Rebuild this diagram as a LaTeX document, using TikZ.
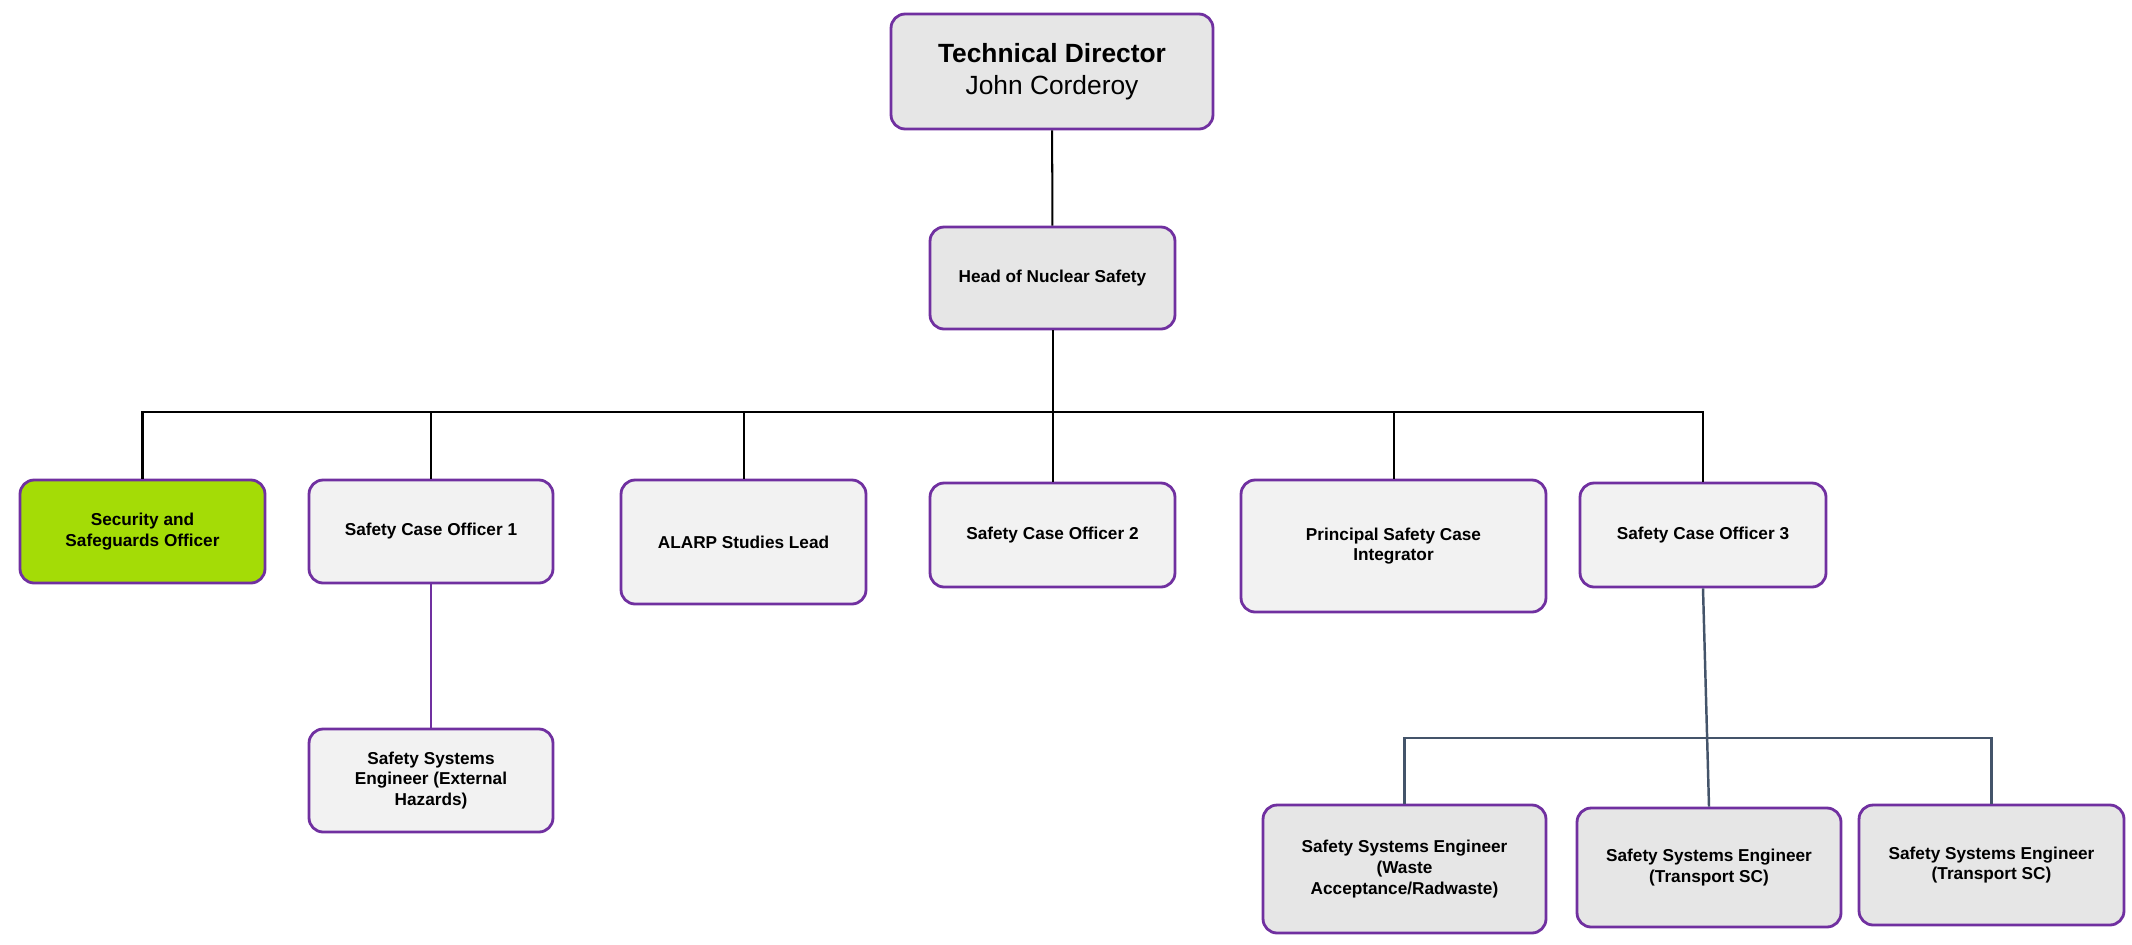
\documentclass[tikz,border=0pt]{standalone}
\usepackage{fontspec}
\setmainfont{Liberation Sans}
\usepackage{tikz}
\usetikzlibrary{positioning}
\definecolor{postedge}{RGB}{112,48,160}
\definecolor{postfill}{RGB}{242,242,242}
\definecolor{headfill}{RGB}{230,230,230}
\definecolor{safegreen}{RGB}{164,220,6}
\definecolor{slateline}{RGB}{68,84,106}

\begin{document}
\begin{tikzpicture}[x=0.02cm, y=-0.02cm,
    post/.style={draw=postedge, line width=1.6pt, rounded corners=8pt,
        fill=postfill, align=center, inner sep=2pt,
        font=\fontsize{9.8}{11.7}\selectfont\bfseries},
    headpost/.style={post, fill=headfill},
    orgline/.style={line width=1.15pt, black},
]
\useasboundingbox (0,0) rectangle (2132,944);

% Direccio
\node[headpost, minimum width=6.44cm, minimum height=2.3cm,
    font=\fontsize{15}{18}\selectfont] (td) at (1052,71.5)
    {\textbf{Technical Director}\\John Corderoy};
\node[headpost, minimum width=4.9cm, minimum height=2.04cm] (hns) at (1052.5,278)
    {Head of Nuclear Safety};

% Fila principal
\node[post, fill=safegreen, minimum width=4.9cm, minimum height=2.06cm] (sec) at (142.5,531.5)
    {Security and\\Safeguards Officer};
\node[post, minimum width=4.88cm, minimum height=2.06cm] (sco1) at (431,531.5)
    {Safety Case Officer 1};
\node[post, minimum width=4.9cm, minimum height=2.48cm] (alarp) at (743.5,542)
    {ALARP Studies Lead};
\node[post, minimum width=4.9cm, minimum height=2.08cm] (sco2) at (1052.5,535)
    {Safety Case Officer 2};
\node[post, minimum width=6.1cm, minimum height=2.64cm] (psci) at (1393.5,546)
    {Principal Safety Case\\Integrator};
\node[post, minimum width=4.92cm, minimum height=2.08cm] (sco3) at (1703,535)
    {Safety Case Officer 3};

% Enginyers
\node[post, minimum width=4.88cm, minimum height=2.06cm] (sse1) at (431,780.5)
    {Safety Systems\\Engineer (External\\Hazards)};
\node[headpost, minimum width=5.66cm, minimum height=2.56cm] (sse2) at (1404.5,869)
    {Safety Systems Engineer\\(Waste\\Acceptance/Radwaste)};
\node[headpost, minimum width=5.28cm, minimum height=2.38cm] (sse3) at (1709,867.5)
    {Safety Systems Engineer\\(Transport SC)};
\node[headpost, minimum width=5.3cm, minimum height=2.4cm] (sse4) at (1991.5,865)
    {Safety Systems Engineer\\(Transport SC)};

% Barres
\coordinate (bar) at (0,412);
\coordinate (lowbar) at (0,738);

\draw[orgline] (td) -- (hns);
\draw[orgline] (hns) -- (sco2);
\draw[orgline] (sec.north) |- (bar -| sco3.north) -- (sco3.north);
\draw[orgline] (sco1.north) -- (sco1.north |- bar);
\draw[orgline] (alarp.north) -- (alarp.north |- bar);
\draw[orgline] (psci.north) -- (psci.north |- bar);

% SCO1
\draw[line width=1.5pt, postedge] (sco1) -- (sse1);

% SCO3
\draw[line width=1.4pt, slateline] (sco3.south) -- (sse3.north);
\draw[line width=1.4pt, slateline] (sse2.north) |- (lowbar -| sse4.north) -- (sse4.north);

\end{tikzpicture}
\end{document}
